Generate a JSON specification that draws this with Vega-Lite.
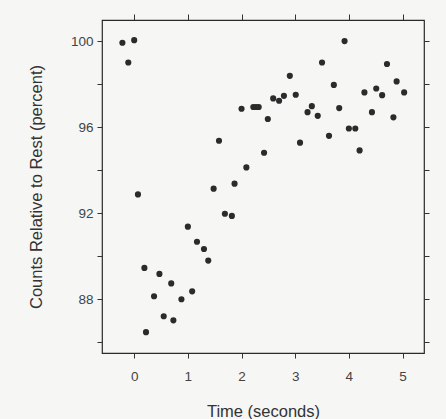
{
  "$schema": "https://vega.github.io/schema/vega-lite/v6.json",
  "width": 322,
  "height": 333,
  "autosize": "none",
  "padding": {"left": 102, "top": 20, "right": 22, "bottom": 66},
  "background": "#f6f6f4",
  "config": {
    "view": {"stroke": "#2a2a2a", "strokeWidth": 1.2},
    "font": "Liberation Sans",
    "axis": {"domain": false, "grid": false, "tickColor": "#333", "tickSize": 5, "labelColor": "#444", "labelFontSize": 13.5, "titleFontSize": 16.5, "titleFontWeight": "normal", "titleColor": "#333", "labelFont": "Liberation Sans", "titleFont": "Liberation Sans"}
  },
  "data": {"values": [
    {"t": -0.22, "c": 99.94}, {"t": -0.11, "c": 99.02}, {"t": 0.0, "c": 100.06}, {"t": 0.07, "c": 92.88},
    {"t": 0.19, "c": 89.46}, {"t": 0.22, "c": 86.47}, {"t": 0.37, "c": 88.14}, {"t": 0.47, "c": 89.18},
    {"t": 0.55, "c": 87.21}, {"t": 0.69, "c": 88.74}, {"t": 0.73, "c": 87.02}, {"t": 0.88, "c": 88.0},
    {"t": 1.0, "c": 91.38}, {"t": 1.08, "c": 88.37}, {"t": 1.17, "c": 90.68}, {"t": 1.3, "c": 90.34},
    {"t": 1.38, "c": 89.8}, {"t": 1.48, "c": 93.15}, {"t": 1.58, "c": 95.38}, {"t": 1.69, "c": 91.98},
    {"t": 1.82, "c": 91.88}, {"t": 1.87, "c": 93.38}, {"t": 2.0, "c": 96.87}, {"t": 2.09, "c": 94.14},
    {"t": 2.22, "c": 96.95}, {"t": 2.27, "c": 96.95}, {"t": 2.32, "c": 96.95}, {"t": 2.42, "c": 94.82},
    {"t": 2.49, "c": 96.39}, {"t": 2.59, "c": 97.35}, {"t": 2.7, "c": 97.24}, {"t": 2.79, "c": 97.47},
    {"t": 2.9, "c": 98.4}, {"t": 3.01, "c": 97.52}, {"t": 3.09, "c": 95.29}, {"t": 3.23, "c": 96.71},
    {"t": 3.31, "c": 96.99}, {"t": 3.42, "c": 96.54}, {"t": 3.5, "c": 99.02}, {"t": 3.63, "c": 95.61},
    {"t": 3.72, "c": 97.98}, {"t": 3.82, "c": 96.9}, {"t": 3.92, "c": 100.02}, {"t": 4.0, "c": 95.95},
    {"t": 4.12, "c": 95.95}, {"t": 4.2, "c": 94.93}, {"t": 4.29, "c": 97.63}, {"t": 4.43, "c": 96.71},
    {"t": 4.51, "c": 97.81}, {"t": 4.62, "c": 97.5}, {"t": 4.71, "c": 98.95}, {"t": 4.83, "c": 96.47},
    {"t": 4.89, "c": 98.14}, {"t": 5.03, "c": 97.63}
  ]},
  "layer": [
    {
      "mark": {"type": "point", "filled": true, "size": 38, "color": "#2b2b2b", "opacity": 1},
      "encoding": {
        "x": {"field": "t", "type": "quantitative", "scale": {"domain": [-0.6, 5.4], "nice": false, "zero": false},
              "axis": {"orient": "bottom", "title": "Time (seconds)", "values": [0, 1, 2, 3, 4, 5], "labelPadding": 11, "titlePadding": 21}},
        "y": {"field": "c", "type": "quantitative", "scale": {"domain": [85.5, 101.0], "nice": false, "zero": false},
              "axis": {"orient": "left", "title": "Counts Relative to Rest (percent)", "values": [86, 88, 90, 92, 94, 96, 98, 100],
                       "labelExpr": "datum.value % 4 == 0 ? datum.label : ''", "labelPadding": 4, "titlePadding": 26}}
      }
    },
    {
      "mark": {"type": "point", "opacity": 0},
      "encoding": {
        "x": {"field": "t", "type": "quantitative", "axis": {"orient": "top", "title": null, "labels": false, "values": [0, 1, 2, 3, 4, 5], "tickSize": 6}},
        "y": {"field": "c", "type": "quantitative", "axis": {"orient": "right", "title": null, "labels": false, "values": [86, 88, 90, 92, 94, 96, 98, 100]}}
      }
    }
  ],
  "resolve": {"axis": {"x": "independent", "y": "independent"}}
}
